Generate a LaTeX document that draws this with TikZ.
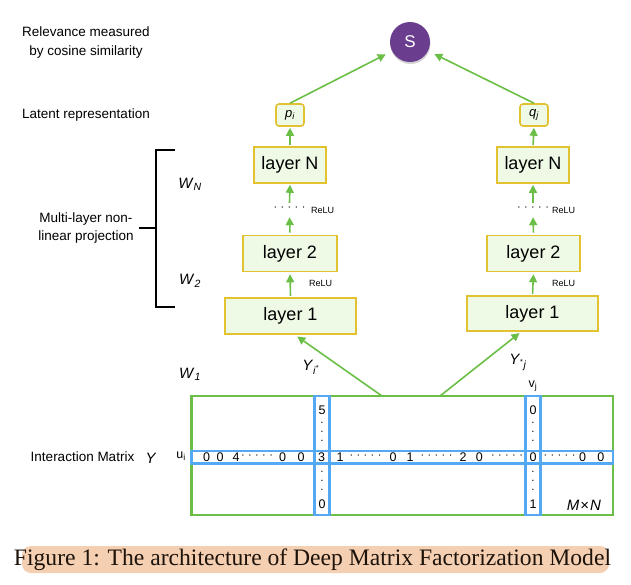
\documentclass[tikz,border=0pt]{standalone}
\usepackage{fontspec}
\setmainfont{Liberation Serif}
\setsansfont{Liberation Sans}
\usetikzlibrary{arrows.meta,shadows}

\definecolor{arrowgreen}{HTML}{6BBF47}
\definecolor{boxyellow}{HTML}{E2C231}
\definecolor{boxfill}{HTML}{EEFAE6}
\definecolor{rowblue}{HTML}{55A8F2}
\definecolor{simpurple}{HTML}{6A3D8E}
\definecolor{peach}{HTML}{F4CFB2}

\newcommand{\fivedots}{·\kern3.4pt·\kern3.4pt·\kern3.4pt·\kern3.4pt·}
\newcommand{\itsub}[2]{\textit{#1}\textsubscript{\textit{#2}}}

\tikzset{
    layerbox/.style={draw=boxyellow, fill=boxfill, line width=1.6pt, inner sep=0pt,
        minimum height=36pt, font=\sffamily\fontsize{18}{20}\selectfont},
    latentbox/.style={draw=boxyellow, fill=boxfill, line width=1.6pt, inner sep=0pt,
        rounded corners=3pt, minimum width=28pt, minimum height=22pt,
        font=\sffamily\fontsize{13}{14}\selectfont},
    greenarrow/.style={draw=arrowgreen, line width=1.6pt, -{Triangle[length=8pt,width=8pt]}},
    sidelabel/.style={font=\sffamily\fontsize{13.5}{18.5}\selectfont, align=center},
    wlabel/.style={font=\sffamily\fontsize{15}{16}\selectfont},
    relulabel/.style={font=\sffamily\fontsize{9}{10}\selectfont, anchor=west, inner sep=0pt},
    dotlabel/.style={font=\sffamily\fontsize{11}{12}\selectfont, inner sep=0pt},
    vdots/.style={font=\sffamily\fontsize{5}{9}\selectfont, inner sep=0pt, align=center},
    cell/.style={font=\sffamily\fontsize{12.5}{13}\selectfont, inner sep=0pt},
}

\begin{document}
\begin{tikzpicture}[x=1pt, y=-1pt]
    \useasboundingbox (0,0) rectangle (631,584);

    \node[sidelabel] (relevance) at (86,42.5) {Relevance measured\\by cosine similarity};
    \node[sidelabel] (latent) at (86,115) {Latent representation};
    \node[sidelabel] (multilayer) at (86,228) {Multi-layer non-\\linear projection};
    \node[sidelabel] (interaction) at (82.5,457) {Interaction Matrix};
    \node[wlabel] (ylab) at (151,458) {\textit{Y}};

    \node[circle, fill=simpurple, minimum size=40pt, inner sep=0pt, text=white,
        font=\sffamily\fontsize{17}{18}\selectfont,
        drop shadow={opacity=0.35, shadow xshift=0.5pt, shadow yshift=-2pt}] (S) at (410,42) {S};

    \node[latentbox] (pi) at (290,115) {\itsub{p}{i}};
    \node[latentbox] (qj) at (534,115) {\itsub{q}{j}};

    \node[layerbox, minimum width=72pt] (layerNL) at (290,165) {layer N};
    \node[layerbox, minimum width=94pt] (layer2L) at (290,253.5) {layer 2};
    \node[layerbox, minimum width=131pt] (layer1L) at (290.5,316) {layer 1};
    \node[layerbox, minimum width=72pt] (layerNR) at (533,165) {layer N};
    \node[layerbox, minimum width=93pt] (layer2R) at (533.5,253.5) {layer 2};
    \node[layerbox, minimum width=131pt, minimum height=35pt] (layer1R) at (532.5,313.5) {layer 1};

    \node[dotlabel, minimum height=12pt] (dotsL) at (289.5,209) {\fivedots};
    \node[dotlabel, minimum height=12pt] (dotsR) at (533,209) {\fivedots};
    \node[relulabel] (reluNL) at (311,210) {ReLU};
    \node[relulabel] (reluNR) at (552,210) {ReLU};
    \node[relulabel] (relu2L) at (309,283) {ReLU};
    \node[relulabel] (relu2R) at (552,283) {ReLU};

    \node[wlabel] (wN) at (190,184) {\itsub{W}{N}};
    \node[wlabel] (w2) at (190,281) {\itsub{W}{2}};
    \node[wlabel] (w1) at (190,374) {\itsub{W}{1}};

    \draw[line width=1.5pt] (175,150) -- (156,150) -- (156,307) -- (175,307);
    \draw[line width=1.5pt] (139,228) -- (156,228);

    \draw[greenarrow, shorten >=7pt] (pi.north) -- (S);
    \draw[greenarrow, shorten >=7pt] (qj.north) -- (S);
    \draw[greenarrow, shorten <=1pt, shorten >=1pt] (layerNL.north) -- (pi.south);
    \draw[greenarrow, shorten <=1pt, shorten >=1pt] (layerNR.north) -- (qj.south);
    \draw[greenarrow, shorten >=1pt] (dotsL.north) -- (layerNL.south);
    \draw[greenarrow, shorten >=1pt] (dotsR.north) -- (layerNR.south);
    \draw[greenarrow, shorten <=2pt, shorten >=2pt] (layer2L.north) -- (dotsL.south);
    \draw[greenarrow, shorten <=2pt, shorten >=2pt] (layer2R.north) -- (dotsR.south);
    \draw[greenarrow, shorten <=1pt, shorten >=2pt] (layer1L.north) -- (layer2L.south);
    \draw[greenarrow, shorten <=1pt, shorten >=2pt] (layer1R.north) -- (layer2R.south);

    % interaction matrix
    \draw[arrowgreen, line width=2.2pt] (191.5,396) rectangle (613,515);
    \draw[rowblue, line width=2.2pt] (191.5,451) rectangle (613,463.5);
    \draw[rowblue, line width=2.2pt] (314.5,396) rectangle (329.5,515);
    \draw[rowblue, line width=2.2pt] (525.5,396) rectangle (540.5,515);

    \coordinate (rowtop) at (382,396);
    \coordinate (coltop) at (440,396);
    \draw[greenarrow, shorten >=3pt] (rowtop) -- (layer1L.283);
    \draw[greenarrow, shorten >=2pt] (coltop) -- (layer1R.238);
    \node[wlabel] (yrow) at (311,367) {\textit{Y}\textsubscript{\textit{i}\textsuperscript{*}}};
    \node[wlabel] (ycol) at (518,362) {\textit{Y}\textsubscript{\textsuperscript{*}\textit{j}}};

    \node[cell] (ui) at (181,456) {u\textsubscript{i}};
    \node[cell] (vj) at (533,386) {v\textsubscript{j}};

    \foreach \x/\t in {206.7/0, 220/0, 236/4, 282.7/0, 301/0, 321.5/3, 340/1, 393/0, 410/1,
        463/2, 479.3/0, 533/0, 582.7/0, 600.8/0}
        \node[cell] at (\x,457.5) {\t};
    \foreach \x in {257, 365.5, 436.5, 507, 559.5}
        \node[dotlabel] at (\x,457) {\fivedots};
    \foreach \x/\top/\bot in {322/5/0, 533/0/1} {
        \node[cell] at (\x,410) {\top};
        \node[cell] at (\x,504.5) {\bot};
        \node[vdots] at (\x,432) {•\\•\\•};
        \node[vdots] at (\x,481) {•\\•\\•};
    }
    \node[wlabel] (mn) at (584,505) {\textit{M}\kern1pt×\kern1pt\textit{N}};

    % caption
    \fill[peach, rounded corners=9pt] (22,546) rectangle (609,573);
    \node[font=\fontsize{23.6}{25}\selectfont, text=black!85!brown, inner sep=0pt] (caption) at (312.5,560)
        {Figure 1: The architecture of Deep Matrix Factorization Model};
\end{tikzpicture}
\end{document}
